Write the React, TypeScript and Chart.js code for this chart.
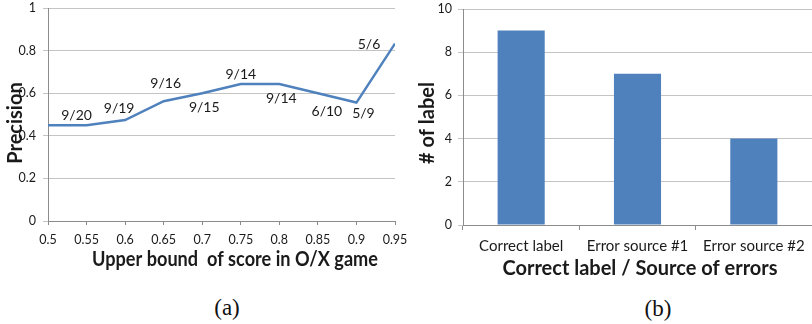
import React, { useEffect, useRef } from "react";
import { Chart, registerables } from "chart.js";

Chart.register(...registerables);

// ---- Data: chart (a)
const xValues = [0.5, 0.55, 0.6, 0.65, 0.7, 0.75, 0.8, 0.85, 0.9, 0.95];
const precision = [0.45, 0.45, 0.474, 0.5625, 0.6, 0.643, 0.643, 0.6, 0.556, 0.833];
const pointLabels = ["", "9/20", "9/19", "9/16", "9/15", "9/14", "9/14", "6/10", "5/9", "5/6"];
const precisionTicks = [0, 0.2, 0.4, 0.6, 0.8, 1];

// ---- Data: chart (b)
const barCategories = ["Correct label", "Error source #1", "Error source #2"];
const labelCounts = [9, 7, 4];
const countTicks = [0, 2, 4, 6, 8, 10];

// label placement (pixel offsets from each point) – styling only
const labelOffsets: [number, number][] = [
  [0, 0], [-10, -10], [-6, -12], [2, -18], [2, 14], [0, -10], [2, 14], [9, 18], [7, 11], [-26, 1],
];

const FONT = "Lato, 'Open Sans', sans-serif";
const BLUE = "#4F81BD";
const GRID = "#C4C4C4";
const AXIS = "#8C8C8C";
const TEXT = "#1a1a1a";

type TitleItem = {
  text: string; x: number; y: number; rotate?: number; baseline?: CanvasTextBaseline; maxWidth?: number; font: string;
};

function makeTitlePlugin(items: TitleItem[]) {
  return {
    id: "axisTitlesCustom",
    afterDraw(chart: any) {
      const ctx = chart.ctx as CanvasRenderingContext2D;
      for (const t of items) {
        ctx.save();
        ctx.font = t.font;
        ctx.fillStyle = TEXT;
        ctx.textAlign = "center";
        ctx.textBaseline = t.baseline || "alphabetic";
        ctx.translate(t.x, t.y);
        if (t.rotate) ctx.rotate(t.rotate);
        if (t.maxWidth) ctx.fillText(t.text, 0, 0, t.maxWidth);
        else ctx.fillText(t.text, 0, 0);
        ctx.restore();
      }
    },
  };
}

const pointLabelPlugin = {
  id: "pointLabelsCustom",
  afterDatasetsDraw(chart: any) {
    const ctx = chart.ctx as CanvasRenderingContext2D;
    const meta = chart.getDatasetMeta(0);
    ctx.save();
    ctx.font = `14px ${FONT}`;
    ctx.fillStyle = TEXT;
    ctx.textAlign = "center";
    ctx.textBaseline = "middle";
    meta.data.forEach((pt: any, i: number) => {
      const txt = pointLabels[i];
      if (!txt) return;
      const [dx, dy] = labelOffsets[i];
      ctx.fillText(txt, pt.x + dx, pt.y + dy);
    });
    ctx.restore();
  },
};

const noPadX = (h: number) => (s: any) => { s.height = h; s.paddingLeft = 0; s.paddingRight = 0; };
const noPadY = (w: number) => (s: any) => { s.width = w; s.paddingTop = 0; s.paddingBottom = 0; };

function LineChartA() {
  const ref = useRef<HTMLCanvasElement>(null);
  useEffect(() => {
    const chart = new Chart(ref.current!, {
      type: "line",
      data: {
        datasets: [
          {
            data: xValues.map((x, i) => ({ x, y: precision[i] })),
            borderColor: BLUE,
            borderWidth: 2.5,
            pointRadius: 0,
            tension: 0,
            fill: false,
          },
        ],
      },
      options: {
        animation: false,
        responsive: false,
        maintainAspectRatio: false,
        layout: { padding: { top: 8, right: 15, left: 0, bottom: 0 } },
        plugins: { legend: { display: false }, tooltip: { enabled: false }, title: { display: false } },
        scales: {
          x: {
            type: "linear",
            min: 0.5,
            max: 0.95,
            afterBuildTicks: (s: any) => { s.ticks = xValues.map((v) => ({ value: v })); },
            afterFit: noPadX(69),
            ticks: { color: TEXT, font: { family: FONT, size: 12.5 }, padding: 7, maxRotation: 0, autoSkip: false, callback: (v: any) => String(v) },
            grid: { drawOnChartArea: false, drawTicks: true, tickLength: 4, color: AXIS },
            border: { color: AXIS, width: 1 },
          },
          y: {
            min: 0,
            max: 1,
            afterBuildTicks: (s: any) => { s.ticks = precisionTicks.map((v) => ({ value: v })); },
            afterFit: noPadY(48),
            ticks: { color: TEXT, font: { family: FONT, size: 12.5 }, padding: 7, callback: (v: any) => String(v) },
            grid: { color: GRID, tickLength: 5, drawTicks: true },
            border: { color: AXIS, width: 1 },
          },
        },
      },
      plugins: [
        pointLabelPlugin,
        makeTitlePlugin([
          { text: "Upper bound  of score in O/X game", x: 235, y: 266, font: `bold 20px ${FONT}`, maxWidth: 286 },
          { text: "Precision", x: 16, y: 123, rotate: -Math.PI / 2, baseline: "middle", font: `bold 20px ${FONT}`, maxWidth: 82 },
        ]),
      ],
    } as any);
    return () => chart.destroy();
  }, []);
  return <canvas ref={ref} width={410} height={290} style={{ position: "absolute", left: 0, top: 0, width: 410, height: 290 }} />;
}

function BarChartB() {
  const ref = useRef<HTMLCanvasElement>(null);
  useEffect(() => {
    const chart = new Chart(ref.current!, {
      type: "bar",
      data: {
        labels: barCategories,
        datasets: [
          {
            data: labelCounts,
            backgroundColor: BLUE,
            borderWidth: 0,
            categoryPercentage: 1,
            barPercentage: 0.405,
          },
        ],
      },
      options: {
        animation: false,
        responsive: false,
        maintainAspectRatio: false,
        layout: { padding: { top: 9, right: 0, left: 0, bottom: 0 } },
        plugins: { legend: { display: false }, tooltip: { enabled: false }, title: { display: false } },
        scales: {
          x: {
            afterFit: noPadX(65),
            ticks: { color: TEXT, font: { family: FONT, size: 15 }, padding: 7, maxRotation: 0, autoSkip: false },
            grid: { offset: true, drawOnChartArea: false, drawTicks: true, tickLength: 5, color: AXIS },
            border: { color: AXIS, width: 1 },
          },
          y: {
            min: 0,
            max: 10,
            afterBuildTicks: (s: any) => { s.ticks = countTicks.map((v) => ({ value: v })); },
            afterFit: noPadY(53),
            ticks: { color: TEXT, font: { family: FONT, size: 12.5 }, padding: 6, callback: (v: any) => String(v) },
            grid: { color: GRID, tickLength: 5, drawTicks: true },
            border: { color: AXIS, width: 1 },
          },
        },
      },
      plugins: [
        makeTitlePlugin([
          { text: "Correct label / Source of errors", x: 230, y: 275, font: `bold 20px ${FONT}`, maxWidth: 276 },
          { text: "# of label", x: 17.5, y: 123, rotate: -Math.PI / 2, baseline: "middle", font: `bold 20px ${FONT}`, maxWidth: 82 },
        ]),
      ],
    } as any);
    return () => chart.destroy();
  }, []);
  return <canvas ref={ref} width={402} height={290} style={{ position: "absolute", left: 410, top: 0, width: 402, height: 290 }} />;
}

const captionStyle: React.CSSProperties = {
  position: "absolute",
  transform: "translate(-50%, -50%)",
  fontFamily: "'Liberation Serif', 'DejaVu Serif', serif",
  fontSize: 23,
  lineHeight: 1,
  color: "#111",
  whiteSpace: "nowrap",
};

export default function App() {
  return (
    <div style={{ position: "absolute", left: 0, top: 0, width: 812, height: 324, background: "#fff", overflow: "hidden" }}>
      <LineChartA />
      <BarChartB />
      <div style={{ ...captionStyle, left: 227, top: 307 }}>(a)</div>
      <div style={{ ...captionStyle, left: 658, top: 308 }}>(b)</div>
    </div>
  );
}
